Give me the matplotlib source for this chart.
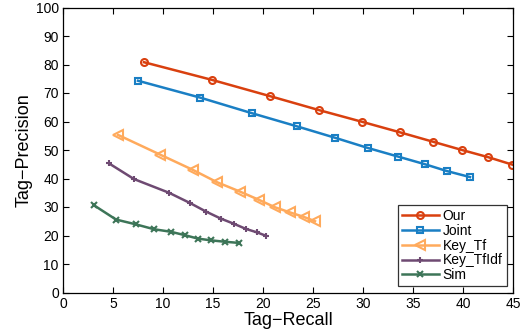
import matplotlib
matplotlib.use("Agg")
import matplotlib.pyplot as plt

plt.rcParams['font.family'] = ['Liberation Sans', 'DejaVu Sans']

our_x = [8.1, 14.9, 20.7, 25.6, 29.9, 33.7, 37.0, 39.9, 42.5, 44.9]
our_y = [80.8, 74.6, 68.9, 64.0, 59.9, 56.2, 52.9, 50.0, 47.5, 44.9]

joint_x = [7.5, 13.7, 18.9, 23.4, 27.2, 30.5, 33.5, 36.2, 38.4, 40.7]
joint_y = [74.3, 68.4, 62.9, 58.3, 54.3, 50.7, 47.7, 45.0, 42.6, 40.5]

keytf_x = [5.5, 9.7, 13.0, 15.4, 17.7, 19.6, 21.2, 22.7, 24.1, 25.2]
keytf_y = [55.3, 48.4, 43.0, 38.7, 35.4, 32.5, 29.9, 28.1, 26.5, 25.0]

keytfidf_x = [4.6, 7.1, 10.6, 12.7, 14.3, 15.8, 17.1, 18.3, 19.4, 20.3]
keytfidf_y = [45.3, 39.8, 35.0, 31.4, 28.4, 25.9, 24.1, 22.3, 21.1, 19.9]

sim_x = [3.1, 5.3, 7.3, 9.1, 10.8, 12.2, 13.5, 14.8, 16.2, 17.6]
sim_y = [30.6, 25.6, 23.9, 22.2, 21.3, 20.1, 18.9, 18.3, 17.8, 17.4]

labels = ['Our', 'Joint', 'Key_Tf', 'Key_TfIdf', 'Sim']
x_ticks = [0, 5, 10, 15, 20, 25, 30, 35, 40, 45]
y_ticks = [0, 10, 20, 30, 40, 50, 60, 70, 80, 90, 100]

fig = plt.figure(figsize=(5.31, 3.30), dpi=100)
ax = fig.add_axes([63/531, 1 - 292.5/330, 450/531, 285/330])

ax.plot(our_x, our_y, color='#D9400F', marker='o', mfc='none', mew=1.5, ms=5, lw=1.8, label=labels[0])
ax.plot(joint_x, joint_y, color='#1A7FC4', marker='s', mfc='none', mew=1.5, ms=4, lw=1.8, label=labels[1])
ax.plot(keytf_x, keytf_y, color='#FFAA5C', marker='<', mfc='none', mew=1.5, ms=7, lw=1.8, label=labels[2])
ax.plot(keytfidf_x, keytfidf_y, color='#6E4A72', marker='+', mew=1.5, ms=5, lw=1.8, label=labels[3])
ax.plot(sim_x, sim_y, color='#3D7558', marker='x', mew=1.5, ms=4, lw=1.8, label=labels[4])

ax.set_xlim(0, 45)
ax.set_ylim(0, 100)
ax.set_xticks(x_ticks)
ax.set_yticks(y_ticks)
ax.tick_params(direction='in', top=True, right=True, labelsize=10, length=4, width=0.8, pad=3)
for s in ax.spines.values():
    s.set_linewidth(0.9)
ax.set_xlabel('Tag\u2212Recall', fontsize=13, labelpad=1)
ax.set_ylabel('Tag\u2212Precision', fontsize=13, labelpad=2)

leg = ax.legend(loc='lower right', fontsize=10, frameon=True, fancybox=False, edgecolor='black',
                handlelength=2.6, borderaxespad=0.45, labelspacing=0.05, handletextpad=0.3,
                borderpad=0.3)
leg.get_frame().set_linewidth(0.9)

fig.savefig('out.png', dpi=100)
